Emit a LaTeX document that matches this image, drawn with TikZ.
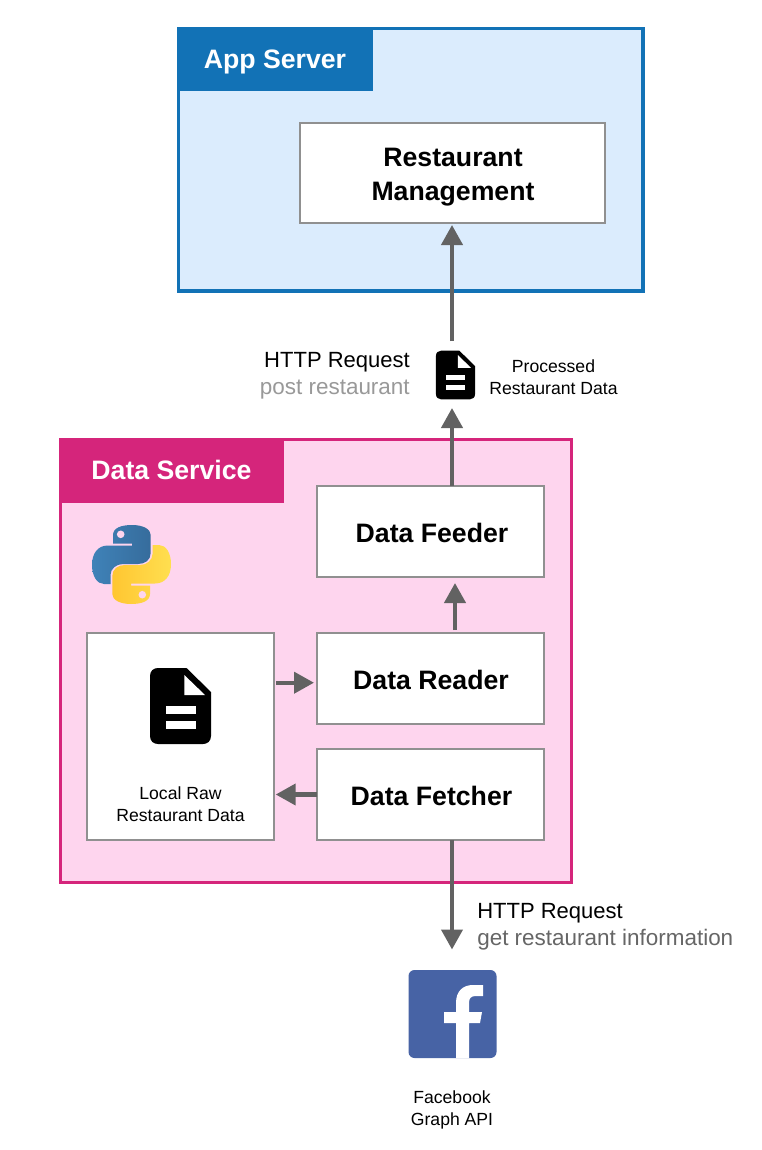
\documentclass[tikz,border=0pt]{standalone}
\usepackage{fontspec}
\setmainfont{Liberation Sans}
\usetikzlibrary{arrows.meta,calc}
\definecolor{appblue}{HTML}{1272B6}
\definecolor{appfill}{HTML}{DBECFD}
\definecolor{dspink}{HTML}{D5257B}
\definecolor{dsfill}{HTML}{FED5EE}
\definecolor{boxgray}{HTML}{909090}
\definecolor{arrowgray}{HTML}{626262}
\definecolor{fbblue}{HTML}{4763A5}
\definecolor{pyblueA}{HTML}{3F82B8}
\definecolor{pyblueB}{HTML}{366C9C}
\definecolor{pyyellowA}{HTML}{FFC631}
\definecolor{pyyellowB}{HTML}{FFDF50}
\definecolor{postgray}{HTML}{999999}
\definecolor{getgray}{HTML}{666666}
\def\pyhalf{(132,545.5) -- (108,545.5) .. controls (98,545.5) and (92,553) .. (92,565)
    .. controls (92,576) and (97,584) .. (104,584) -- (110.5,584) -- (110.5,575)
    .. controls (110.5,569) and (116,564) .. (123,564) -- (138,564)
    .. controls (145,564) and (150.7,560) .. (150.7,553) -- (150.7,535)
    .. controls (150.7,529) and (143,525) .. (132,525)
    .. controls (121,525) and (113,528) .. (113,535) -- (113,543.5) -- (132,543.5) -- cycle}
\tikzset{
  px/.style={x=0.75pt,y=-0.75pt},
  outerbox/.style={line width=2.6pt,inner sep=0pt,outer sep=0pt},
  tabtitle/.style={text=white,font=\fontsize{20}{24}\selectfont\bfseries,inner sep=0pt},
  whitebox/.style={draw=boxgray,fill=white,line width=1.5pt,inner sep=0pt,outer sep=0pt},
  boxtitle/.style={font=\fontsize{20}{25.5}\selectfont\bfseries,align=center,inner sep=0pt},
  smalltext/.style={font=\fontsize{13.2}{16.5}\selectfont,align=center,inner sep=0pt},
  reqtext/.style={font=\fontsize{16.5}{20.5}\selectfont,inner sep=0pt},
  reqsub/.style={font=\fontsize{16.85}{20.5}\selectfont,inner sep=0pt},
  flow/.style={draw=arrowgray,line width=3.2pt,-{Triangle[length=15pt,width=15.7pt]}},
  docicon/.pic={
    \fill[black] (-22.5,-38) -- (6,-38) -- (30.5,-14) -- (30.5,30)
      .. controls (30.5,35) and (27,38) .. (22.5,38) -- (-22.5,38)
      .. controls (-27,38) and (-30.5,35) .. (-30.5,30) -- (-30.5,-30)
      .. controls (-30.5,-35) and (-27,-38) .. (-22.5,-38) -- cycle;
    \fill[white] (3.8,-31) -- (24.5,-11) -- (3.8,-11) -- cycle;
    \fill[white] (-15,0) rectangle (15,8);
    \fill[white] (-15,15.3) rectangle (15,23.3);
  }
}
\begin{document}
\begin{tikzpicture}[px]
\useasboundingbox (0,0) rectangle (762,1150);
\fill[white] (0,0) rectangle (762,1150);

% App server
\draw[appblue,fill=appfill,outerbox] (178.5,28.5) rectangle (643,291);
\fill[appblue] (177,27) rectangle (373,91);
\node[tabtitle] (apptitle) at (275,62) {App Server};
\node[whitebox,minimum width=228.75pt,minimum height=75pt] (rm) at (452.5,173) {};
\node[boxtitle] (rmtext) at (453,177) {Restaurant\\Management};

% Data service
\draw[dspink,fill=dsfill,outerbox] (60.5,439.5) rectangle (571.5,882.5);
\fill[dspink] (59,438) rectangle (284,503);
\node[tabtitle] (dstitle) at (171.5,470) {Data Service};
\node[whitebox,minimum width=170.25pt,minimum height=68.25pt] (feeder) at (430.5,531.5) {};
\node[boxtitle] (feedertext) at (432,532.5) {Data Feeder};
\node[whitebox,minimum width=170.25pt,minimum height=68.25pt] (reader) at (430.5,678.5) {};
\node[boxtitle] (readertext) at (431,679.5) {Data Reader};
\node[whitebox,minimum width=170.25pt,minimum height=68.25pt] (fetcher) at (430.5,794.5) {};
\node[boxtitle] (fetchertext) at (431.5,795.5) {Data Fetcher};
\node[whitebox,minimum width=140.25pt,minimum height=155.25pt] (local) at (180.5,736.5) {};
\pic at (180.5,706) {docicon};
\node[smalltext] (localtext) at (180.5,804) {Local Raw\\Restaurant Data};

% Python logo
\shade[shading angle=135,left color=pyblueA,right color=pyblueB] \pyhalf;
\fill[dsfill] (120.7,534.3) circle[radius=3.8];
\begin{scope}[shift={(263,1129)},xscale=-1,yscale=-1]
  \shade[shading angle=135,left color=pyyellowA,right color=pyyellowB] \pyhalf;
  \fill[dsfill] (120.7,534.3) circle[radius=3.8];
\end{scope}

% Top document icon and labels
\pic[scale=0.64] at (455.5,375) {docicon};
\coordinate (docin) at (452,408);
\coordinate (docout) at (452,341);
\coordinate (rmin) at (452,225);
\node[smalltext] (proctext) at (553.5,377) {Processed\\Restaurant Data};
\node[reqtext,anchor=east] (posta) at (410,362) {HTTP Request};
\node[reqsub,anchor=east,text=postgray] (postb) at (410,390) {post restaurant};

% Facebook
\node[fill=fbblue,rounded corners=4.5pt,minimum width=66pt,minimum height=66pt,inner sep=0pt,outer sep=0pt] (fb) at (452.5,1014) {};
\fill[white] (456,1058) -- (456,1023) -- (444,1023) -- (444,1012) -- (456,1012) -- (456,1003)
  .. controls (456,991) and (463,985) .. (473,985) -- (483,985) -- (483,996) -- (476,996)
  .. controls (471,996) and (469,998) .. (469,1003) -- (469,1012) -- (482,1012) -- (480,1023) -- (469,1023) -- (469,1058) -- cycle;
\node[smalltext] (fbtext) at (452,1109.5) {Facebook\\Graph API};

% HTTP label bottom
\node[reqtext,anchor=west] (geta) at (477,913) {HTTP Request};
\node[reqsub,anchor=west,text=getgray] (getb) at (477,940) {get restaurant information};

% Connectors
\coordinate (fbin) at (452,949.5);
\coordinate (rdup) at (455,630);
\coordinate (fdin) at (455,583);
\coordinate (lclout) at (276,682.7);
\coordinate (lclin) at (275.7,794.5);
\draw[flow] (docout) -- (rmin);
\draw[flow] (feeder.north -| docin) -- (docin);
\draw[flow] (rdup) -- (fdin);
\draw[flow] (lclout) -- ($(reader.west |- lclout)+(-3,0)$);
\draw[flow] (fetcher.west) -- (lclin);
\draw[flow] (fetcher.south -| fbin) -- (fbin);
\end{tikzpicture}
\end{document}
